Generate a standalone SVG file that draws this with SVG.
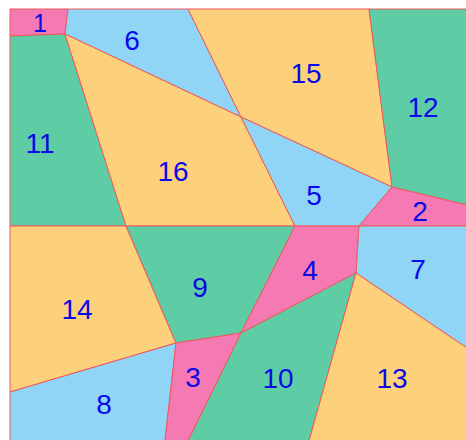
<svg xmlns="http://www.w3.org/2000/svg" width="466" height="440" viewBox="0 0 466 440">
<style>
polygon{stroke:#EE5A5A;stroke-width:1;stroke-linejoin:round}
.p{fill:#F57AB3}.b{fill:#90D4F6}.o{fill:#FDD07C}.g{fill:#5ECCA4}
text{font-family:"Liberation Sans",Arial,sans-serif;font-size:28px;fill:#0A0AE6;text-anchor:middle}
</style>
<rect width="466" height="440" fill="#ffffff"/>
<g id="r1"><polygon class="p" points="10,9 68,9 65,34 10,36"/><text x="40" y="32" style="font-size:25px">1</text></g>
<g id="r6"><polygon class="b" points="68,9 188,9 241,117 65,34"/><text x="132" y="50">6</text></g>
<g id="r15"><polygon class="o" points="188,9 369,9 392,187 241,117"/><text x="306" y="83">15</text></g>
<g id="r12"><polygon class="g" points="369,9 467,9 467,205 392,187"/><text x="423" y="117">12</text></g>
<g id="r11"><polygon class="g" points="10,36 65,34 126,226 10,226"/><text x="40" y="153">11</text></g>
<g id="r16"><polygon class="o" points="65,34 241,117 295,226 126,226"/><text x="173" y="181">16</text></g>
<g id="r5"><polygon class="b" points="241,117 392,187 359,226 295,226"/><text x="314" y="205">5</text></g>
<g id="r2"><polygon class="p" points="392,187 467,205 467,226 359,226"/><text x="420" y="221">2</text></g>
<g id="r14"><polygon class="o" points="10,226 126,226 176,343 10,392"/><text x="77" y="319">14</text></g>
<g id="r9"><polygon class="g" points="126,226 295,226 241,333 176,343"/><text x="200" y="297">9</text></g>
<g id="r4"><polygon class="p" points="295,226 359,226 356,273 241,333"/><text x="310" y="280">4</text></g>
<g id="r7"><polygon class="b" points="359,226 467,226 467,348 356,273"/><text x="418" y="279">7</text></g>
<g id="r8"><polygon class="b" points="10,392 176,343 165,441 10,441"/><text x="104" y="414">8</text></g>
<g id="r3"><polygon class="p" points="176,343 241,333 188,441 165,441"/><text x="193" y="387">3</text></g>
<g id="r10"><polygon class="g" points="241,333 356,273 309,441 188,441"/><text x="278" y="388">10</text></g>
<g id="r13"><polygon class="o" points="356,273 467,348 467,441 309,441"/><text x="392" y="388">13</text></g>
</svg>
